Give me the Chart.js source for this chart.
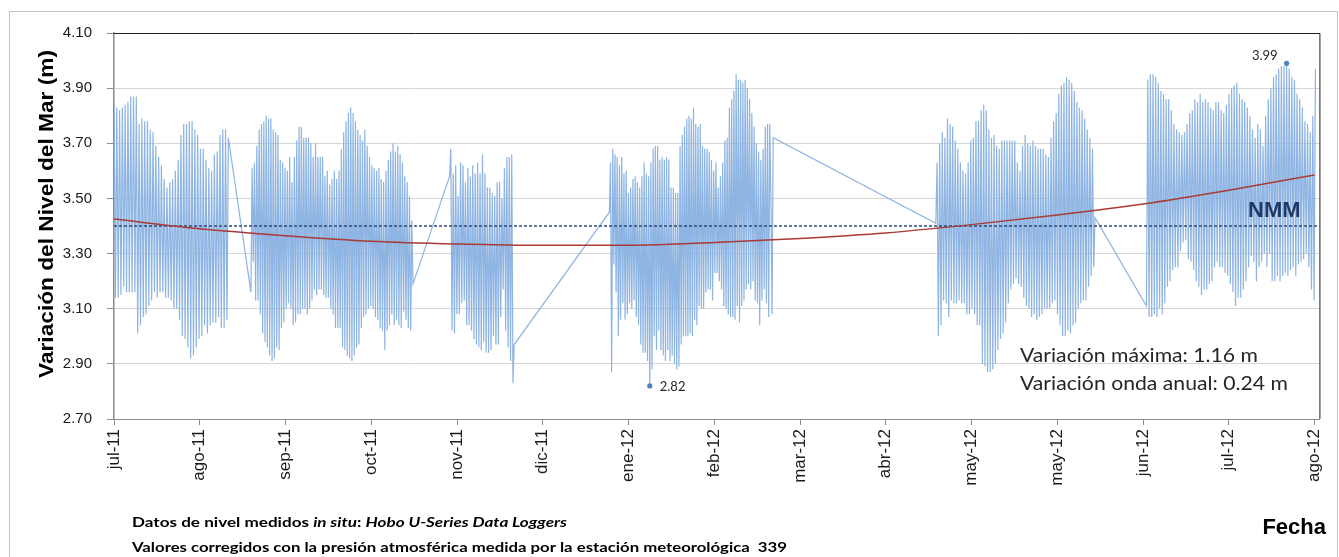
<!DOCTYPE html>
<html lang="es">
<head>
<meta charset="utf-8">
<title>Variación del Nivel del Mar</title>
<script src="https://cdn.jsdelivr.net/npm/chart.js@4"></script>
<style>
  html, body { margin: 0; padding: 0; background: #fff; }
  #wrap { width: 1339px; height: 557px; position: relative; }
</style>
</head>
<body>
<div id="wrap"><canvas id="chart"></canvas></div>
<script>
"use strict";

// eje X: días desde el inicio del registro, una marca cada 30 días
const tickDays = [0, 30, 60, 90, 120, 150, 180, 210, 240, 270, 300, 330, 360, 390, 420];
const tickLabels = ["jul-11", "ago-11", "sep-11", "oct-11", "nov-11", "dic-11", "ene-12",
  "feb-12", "mar-12", "abr-12", "may-12", "may-12", "jun-12", "jul-12", "ago-12"];
const yTicks = [2.7, 2.9, 3.1, 3.3, 3.5, 3.7, 3.9, 4.1];

// tramos con registro (día inicial y final de cada tramo)
const blockStart = [0, 47.9, 117.4, 173.3, 287.5, 361.2];
const blockEnd = [40.0, 104.6, 140.0, 230.6, 343.2, 420.3];

// nivel del mar (m), alternando pleamar / bajamar dentro de cada tramo
const levelJulAgo11 = [3.85, 3.14, 3.83, 3.14, 3.82, 3.15, 3.83, 3.18, 3.84, 3.16, 3.85, 3.16,
  3.87, 3.16, 3.87, 3.16, 3.87, 3.01, 3.77, 3.04, 3.79, 3.07, 3.78, 3.08, 3.78, 3.11, 3.75, 3.13,
  3.74, 3.16, 3.69, 3.14, 3.65, 3.16, 3.62, 3.16, 3.57, 3.14, 3.54, 3.14, 3.56, 3.13, 3.57, 3.10,
  3.60, 3.10, 3.64, 3.06, 3.73, 3.00, 3.77, 2.99, 3.77, 2.96, 3.78, 2.92, 3.78, 2.93, 3.75, 2.96,
  3.73, 2.99, 3.68, 3.00, 3.68, 3.04, 3.64, 3.01, 3.61, 3.04, 3.60, 3.05, 3.66, 3.05, 3.67, 3.07,
  3.73, 3.03, 3.75, 3.03, 3.75, 3.06, 3.72];
const levelSepOct11 = [3.16, 3.61, 3.27, 3.63, 3.13, 3.69, 3.13, 3.75, 3.08, 3.77, 3.01, 3.78, 2.98,
  3.80, 2.96, 3.79, 2.93, 3.79, 2.91, 3.75, 2.92, 3.74, 2.96, 3.73, 2.95, 3.64, 3.03, 3.63, 3.05,
  3.61, 3.10, 3.60, 3.12, 3.65, 3.10, 3.56, 3.04, 3.65, 3.05, 3.71, 3.08, 3.76, 3.08, 3.76, 3.10,
  3.72, 3.10, 3.72, 3.08, 3.72, 3.10, 3.70, 3.13, 3.65, 3.17, 3.70, 3.15, 3.65, 3.17, 3.65, 3.17,
  3.65, 3.15, 3.58, 3.14, 3.60, 3.14, 3.55, 3.10, 3.57, 3.08, 3.60, 3.03, 3.57, 3.03, 3.60, 3.03,
  3.68, 2.96, 3.74, 2.95, 3.78, 2.93, 3.81, 2.92, 3.83, 2.91, 3.81, 2.93, 3.78, 2.96, 3.75, 2.97,
  3.73, 3.03, 3.71, 3.07, 3.75, 3.08, 3.69, 3.10, 3.65, 3.11, 3.62, 3.10, 3.61, 3.07, 3.60, 3.06,
  3.61, 3.03, 3.57, 3.02, 3.56, 2.95, 3.60, 3.02, 3.64, 3.04, 3.67, 3.08, 3.70, 3.04, 3.67, 3.06,
  3.69, 3.04, 3.66, 3.03, 3.63, 3.09, 3.58, 3.06, 3.56, 3.03, 3.51, 3.02, 3.42, 3.19];
const levelNov11 = [3.58, 3.68, 3.02, 3.59, 3.01, 3.62, 3.08, 3.51, 3.08, 3.63, 3.12, 3.62, 3.13,
  3.56, 3.04, 3.61, 3.04, 3.58, 3.02, 3.62, 2.99, 3.59, 2.97, 3.63, 2.96, 3.59, 2.95, 3.66, 2.98,
  3.59, 2.94, 3.54, 2.94, 3.54, 2.95, 3.52, 3.00, 3.51, 2.97, 3.56, 2.97, 3.56, 3.07, 3.50, 3.17,
  3.61, 3.02, 3.65, 2.96, 3.65, 2.91, 3.66, 2.83, 2.97];
const levelEneFeb12 = [3.45, 3.63, 2.87, 3.68, 3.26, 3.66, 3.16, 3.65, 3.00, 3.62, 3.06, 3.65, 3.12,
  3.59, 3.06, 3.60, 3.08, 3.52, 3.12, 3.54, 3.10, 3.57, 3.13, 3.58, 3.07, 3.56, 3.04, 3.54, 2.97,
  3.58, 2.94, 3.63, 2.94, 3.59, 2.91, 3.58, 2.82, 3.63, 2.88, 3.68, 3.00, 3.69, 2.95, 3.69, 3.02,
  3.64, 2.95, 3.65, 2.93, 3.64, 2.91, 3.65, 2.95, 3.64, 2.91, 3.54, 2.93, 3.54, 2.90, 3.52, 2.88,
  3.52, 2.89, 3.69, 2.97, 3.73, 3.00, 3.76, 3.00, 3.79, 3.00, 3.80, 3.01, 3.79, 3.00, 3.83, 3.06,
  3.77, 3.04, 3.76, 3.11, 3.77, 3.10, 3.69, 3.10, 3.68, 3.16, 3.68, 3.17, 3.67, 3.17, 3.64, 3.13,
  3.60, 3.23, 3.63, 3.23, 3.54, 3.20, 3.58, 3.17, 3.63, 3.11, 3.71, 3.10, 3.72, 3.08, 3.83, 3.07,
  3.86, 3.07, 3.89, 3.06, 3.95, 3.11, 3.93, 3.05, 3.93, 3.11, 3.92, 3.13, 3.93, 3.17, 3.90, 3.19,
  3.86, 3.17, 3.81, 3.20, 3.76, 3.13, 3.70, 3.12, 3.67, 3.04, 3.64, 3.13, 3.68, 3.17, 3.76, 3.12,
  3.77, 3.07, 3.77, 3.50, 3.08, 3.72];
const levelAbrMay12 = [3.41, 3.63, 3.00, 3.70, 3.04, 3.74, 3.13, 3.72, 3.12, 3.79, 3.07, 3.77, 3.13,
  3.76, 3.12, 3.71, 3.12, 3.68, 3.13, 3.63, 3.12, 3.60, 3.12, 3.59, 3.08, 3.63, 3.08, 3.71, 3.10,
  3.72, 3.08, 3.78, 3.04, 3.78, 3.04, 3.82, 2.90, 3.84, 2.89, 3.82, 2.87, 3.75, 2.87, 3.72, 2.88,
  3.73, 2.90, 3.69, 2.95, 3.68, 2.99, 3.71, 3.01, 3.71, 3.05, 3.71, 3.12, 3.71, 3.17, 3.71, 3.19,
  3.71, 3.21, 3.63, 3.19, 3.60, 3.18, 3.69, 3.14, 3.73, 3.11, 3.70, 3.10, 3.69, 3.07, 3.71, 3.08,
  3.69, 3.06, 3.68, 3.07, 3.68, 3.08, 3.68, 3.10, 3.66, 3.10, 3.65, 3.10, 3.72, 3.12, 3.78, 3.13,
  3.81, 3.08, 3.88, 3.04, 3.91, 3.00, 3.92, 3.00, 3.94, 3.02, 3.93, 3.01, 3.92, 3.04, 3.89, 3.05,
  3.85, 3.10, 3.83, 3.12, 3.82, 3.13, 3.79, 3.13, 3.75, 3.18, 3.72, 3.22, 3.68, 3.25, 3.43];
const levelJunAgo12 = [3.11, 3.93, 3.07, 3.95, 3.07, 3.95, 3.08, 3.94, 3.07, 3.92, 3.10, 3.89, 3.08,
  3.88, 3.12, 3.86, 3.18, 3.86, 3.20, 3.82, 3.24, 3.77, 3.25, 3.75, 3.25, 3.74, 3.31, 3.73, 3.34,
  3.74, 3.35, 3.77, 3.28, 3.81, 3.27, 3.82, 3.24, 3.86, 3.20, 3.85, 3.18, 3.88, 3.15, 3.85, 3.17,
  3.86, 3.17, 3.85, 3.19, 3.83, 3.20, 3.82, 3.25, 3.85, 3.27, 3.85, 3.25, 3.82, 3.25, 3.81, 3.23,
  3.84, 3.22, 3.88, 3.19, 3.90, 3.16, 3.91, 3.11, 3.92, 3.14, 3.88, 3.14, 3.86, 3.17, 3.85, 3.20,
  3.83, 3.25, 3.80, 3.29, 3.75, 3.27, 3.72, 3.20, 3.77, 3.25, 3.75, 3.27, 3.69, 3.30, 3.80, 3.25,
  3.86, 3.30, 3.90, 3.20, 3.94, 3.20, 3.95, 3.22, 3.97, 3.20, 3.98, 3.22, 3.98, 3.23, 3.99, 3.22,
  3.97, 3.24, 3.94, 3.25, 3.93, 3.22, 3.88, 3.26, 3.86, 3.27, 3.83, 3.28, 3.78, 3.30, 3.77, 3.25,
  3.74, 3.17, 3.80, 3.13, 3.97];

// onda anual (tendencia) en cada marca del eje X y nivel medio del mar
const trendLevels = [3.425, 3.39, 3.365, 3.345, 3.335, 3.33, 3.33, 3.34, 3.355, 3.375, 3.405,
  3.44, 3.48, 3.53, 3.585];
const nmmLevel = 3.40;
const xMax = 421.7;

const blocks = [levelJulAgo11, levelSepOct11, levelNov11, levelEneFeb12, levelAbrMay12, levelJunAgo12];
const tidePoints = [];

blocks.forEach((levels, b) => {
  const step = (blockEnd[b] - blockStart[b]) / (levels.length - 1);

  levels.forEach((level, i) => tidePoints.push({ x: blockStart[b] + i * step, y: level }));
});

const maxPoint = tidePoints.reduce((a, p) => (p.y > a.y ? p : a));
const minPoint = tidePoints.reduce((a, p) => (p.y < a.y ? p : a));
const trendPoints = tickDays.map((day, i) => ({ x: day, y: trendLevels[i] }));

function drawRuns(ctx, runs, x, y, width) {
  let total = 0;

  for (const run of runs) {
    ctx.font = run.font;
    total += ctx.measureText(run.text).width;
  }

  ctx.save();
  ctx.translate(x, y);
  ctx.scale(width / total, 1);
  ctx.textAlign = "left";

  let cx = 0;

  for (const run of runs) {
    ctx.font = run.font;
    ctx.fillText(run.text, cx, 0);
    cx += ctx.measureText(run.text).width;
  }

  ctx.restore();
}

const decorations = {
  id: "decorations",
  afterDraw(chart) {
    const { ctx, chartArea: area, scales } = chart;
    const markers = chart.getDatasetMeta(0).data;

    ctx.save();

    ctx.strokeStyle = "#c4c4c4";
    ctx.lineWidth = 1;
    ctx.strokeRect(9.5, 11.5, 1328, 600);

    ctx.strokeStyle = "#1e1e1e";
    ctx.beginPath();
    ctx.moveTo(area.left, area.top + 0.5);
    ctx.lineTo(area.right + 0.5, area.top + 0.5);
    ctx.lineTo(area.right + 0.5, area.bottom);
    ctx.stroke();

    ctx.fillStyle = "#262626";
    ctx.textBaseline = "alphabetic";
    ctx.font = "13px Lato";
    ctx.textAlign = "right";
    ctx.fillText(maxPoint.y.toFixed(2), markers[0].x - 9, markers[0].y - 3);
    ctx.textAlign = "left";
    ctx.fillText(minPoint.y.toFixed(2), markers[1].x + 10, markers[1].y + 5);

    ctx.fillStyle = "#1f3864";
    ctx.font = "bold 22px 'Liberation Sans'";
    ctx.fillText("NMM", 1248, scales.y.getPixelForValue(nmmLevel) - 9);

    ctx.fillStyle = "#262626";
    drawRuns(ctx, [{ text: "Variación máxima: 1.16 m", font: "19px Lato" }], 1020, 362, 238);
    drawRuns(ctx, [{ text: "Variación onda anual: 0.24 m", font: "19px Lato" }], 1020, 390, 268);

    ctx.fillStyle = "#000";
    ctx.save();
    ctx.translate(53, 214);
    ctx.rotate(-Math.PI / 2);
    drawRuns(ctx, [{ text: "Variación del Nivel del Mar (m)", font: "bold 20px 'Liberation Sans'" }], -164, 0, 328);
    ctx.restore();

    ctx.font = "bold 22px 'Liberation Sans'";
    ctx.textAlign = "right";
    ctx.fillText("Fecha", 1326, 534);

    const bold = "bold 13px Lato";
    const boldItalic = "italic bold 13px Lato";

    drawRuns(ctx, [
      { text: "Datos de nivel medidos ", font: bold },
      { text: "in situ", font: boldItalic },
      { text: ": ", font: bold },
      { text: "Hobo U-Series Data Loggers", font: boldItalic }
    ], 132, 527, 435);
    drawRuns(ctx, [
      { text: "Valores corregidos con la presión atmosférica medida por la estación meteorológica  339", font: bold }
    ], 132, 552, 655);

    ctx.restore();
  }
};

const ctx = document.getElementById("chart").getContext("2d");
const chart = new Chart(ctx, {
  type: "line",
  data: {
    datasets: [
      {
        data: [maxPoint, minPoint],
        showLine: false,
        pointRadius: 2.6,
        pointBackgroundColor: "#4f81bd",
        pointBorderWidth: 0,
        order: 0
      },
      {
        data: trendPoints,
        borderColor: "#a93a36",
        borderWidth: 1.5,
        pointRadius: 0,
        cubicInterpolationMode: "monotone",
        order: 1
      },
      {
        data: [{ x: 0, y: nmmLevel }, { x: xMax, y: nmmLevel }],
        borderColor: "#2e4a7a",
        borderWidth: 1.3,
        borderDash: [3, 2],
        pointRadius: 0,
        order: 2
      },
      {
        data: tidePoints,
        borderColor: "#8db4e2",
        borderWidth: 1.2,
        pointRadius: 0,
        tension: 0,
        order: 3
      }
    ]
  },
  options: {
    responsive: true,
    maintainAspectRatio: false,
    animation: false,
    events: [],
    layout: { padding: { top: 33, right: 11, left: 0, bottom: 0 } },
    plugins: { legend: { display: false }, tooltip: { enabled: false } },
    scales: {
      x: {
        type: "linear",
        min: 0,
        max: xMax,
        afterBuildTicks: scale => { scale.ticks = tickDays.map(value => ({ value })); },
        afterFit: scale => { scale.height = 138; },
        border: { color: "#8c8c8c", width: 1 },
        grid: { drawOnChartArea: false, color: "#8c8c8c", tickLength: 6 },
        ticks: {
          autoSkip: false,
          minRotation: 90,
          maxRotation: 90,
          padding: 4,
          color: "#1a1a1a",
          font: { family: "'Liberation Sans'", size: 17 },
          callback: (value, index) => tickLabels[index]
        }
      },
      y: {
        min: 2.7,
        max: 4.1,
        afterBuildTicks: scale => { scale.ticks = yTicks.map(value => ({ value })); },
        afterFit: scale => { scale.width = 114; },
        border: { color: "#8c8c8c", width: 1.5 },
        grid: { color: "#d6d6d6", tickColor: "#8c8c8c", tickLength: 7 },
        ticks: {
          padding: 15,
          color: "#1a1a1a",
          font: { family: "'Liberation Sans'", size: 15 },
          callback: value => value.toFixed(2)
        }
      }
    }
  },
  plugins: [decorations]
});
</script>
</body>
</html>
